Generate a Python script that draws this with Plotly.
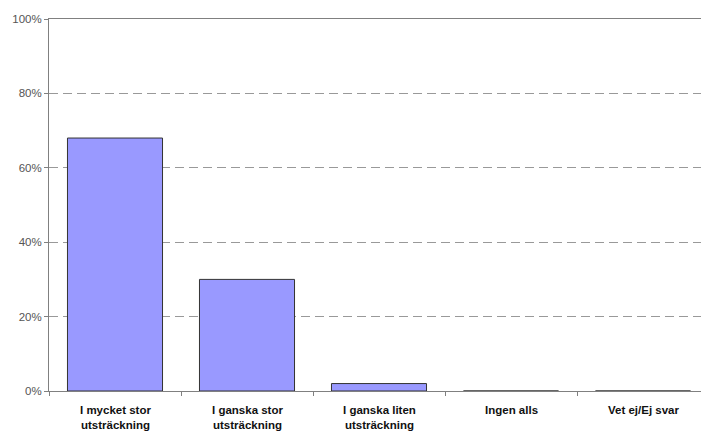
import plotly.graph_objects as go

categories = ["I mycket stor<br>utsträckning", "I ganska stor<br>utsträckning",
              "I ganska liten<br>utsträckning", "Ingen alls", "Vet ej/Ej svar"]
values = [68, 30, 2, 0, 0]
ytick_vals = [0, 20, 40, 60, 80, 100]
ytick_text = ["0%", "20%", "40%", "60%", "80%", "100%"]

fig = go.Figure(go.Bar(
    x=categories, y=values,
    marker=dict(color="#9999FF", line=dict(color="#333333", width=1)),
    width=0.72,
))

fig.update_layout(
    width=701, height=424,
    margin=dict(l=41, r=0, t=11, b=41, autoexpand=False),
    paper_bgcolor="white", plot_bgcolor="white",
    showlegend=False,
    font=dict(family="Liberation Sans, Arial, sans-serif", color="#000000"),
    xaxis=dict(
        showline=True, linecolor="#808080", linewidth=1, mirror=True,
        ticks="outside", ticklen=4, tickcolor="#808080",
        tickmode="array", tickvals=[-0.5, 0.5, 1.5, 2.5, 3.5, 4.5], ticktext=[""] * 6,
        range=[-0.5, 4.5], showgrid=False,
    ),
    yaxis=dict(
        range=[0, 100], tickmode="array", tickvals=ytick_vals, ticktext=ytick_text,
        showline=True, linecolor="#808080", linewidth=1,
        ticks="outside", ticklen=4, tickcolor="#808080",
        tickfont=dict(size=11.5, color="#555555"),
        showgrid=True, gridcolor="#999999", gridwidth=1, griddash="9px,5px",
        zeroline=False,
    ),
)

for i, c in enumerate(categories):
    fig.add_annotation(
        x=i, y=0, xref="x", yref="y", yanchor="top", yshift=-11,
        text="<b>" + c + "</b>", showarrow=False,
        font=dict(size=11.5, color="#111111", family="Liberation Sans, Arial, sans-serif"),
        align="center",
    )

fig.write_html("out.html")
